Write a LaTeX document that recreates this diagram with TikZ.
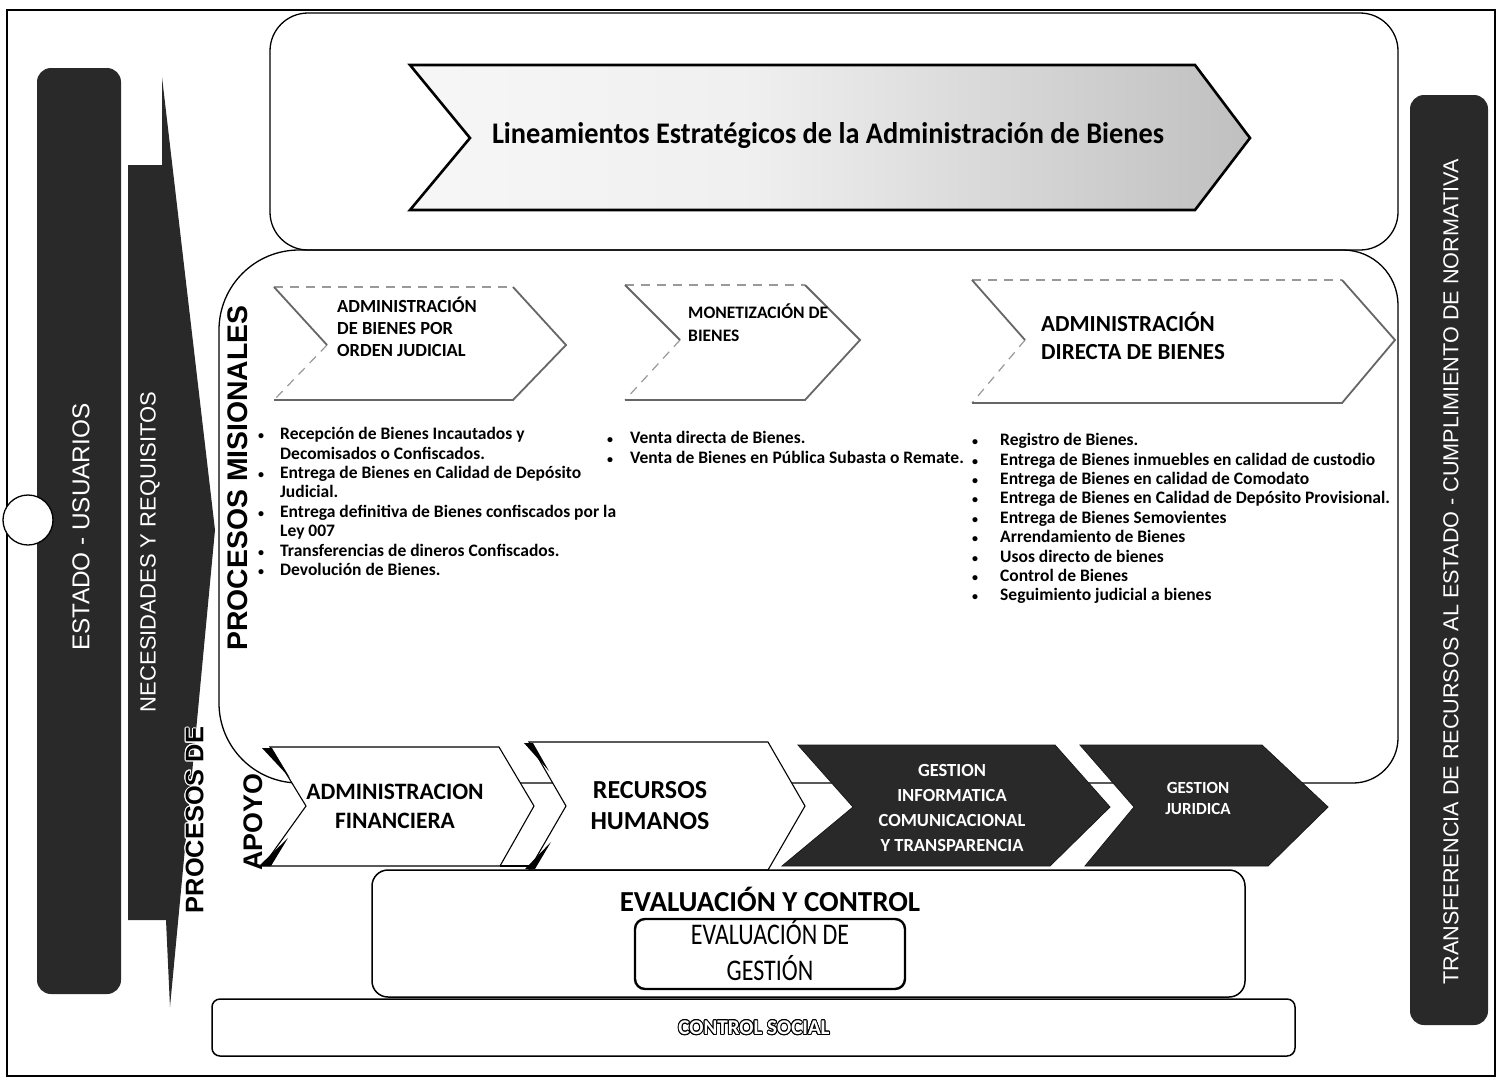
\documentclass[tikz,border=0pt]{standalone}
\usepackage{fontspec}
\usepackage{graphicx}
\setmainfont{Carlito}
\newfontfamily\arial{Liberation Sans}
\usepackage{contour}
\contourlength{0.9pt}
\usetikzlibrary{calc}
\pgfdeclarehorizontalshading{stratshade}{100bp}{color(0bp)=(white); color(45bp)=(black!6); color(80bp)=(black!28); color(100bp)=(black!60)}
\newcommand{\bul}{{\fontsize{12}{12}\selectfont •}}
\tikzset{
  frameline/.style={draw=black, line width=1.4pt},
  boxline/.style={draw=black, line width=1.3pt},
  darkfill/.style={fill=black!84, draw=black!90, line width=0.8pt},
  mislines/.style={draw=black!60, line width=1.8pt},
  misdash/.style={draw=black!40, line width=1.2pt, dash pattern=on 9pt off 7pt},
  supwhite/.style={fill=white, draw=black, line width=1.1pt},
  vlabel/.style={rotate=90, inner sep=0pt},
  lst/.style={inner sep=0pt, anchor=north west, font=\bfseries\fontsize{17.5}{19.4}\selectfont},
  mtitle/.style={inner sep=0pt, anchor=west, align=left},
  stitle/.style={inner sep=0pt, align=center},
}
\begin{document}
\begin{tikzpicture}[x=1pt,y=-1pt]
\useasboundingbox (0,0) rectangle (1502,1080);
\fill[white] (0,0) rectangle (1502,1080);

% outer frame
\draw[frameline] (7,10) rectangle (1495,1076);

% top box (strategic)
\draw[boxline, rounded corners=38] (270,13) rectangle (1398,250);
% missional box
\draw[boxline] (219,500) [rounded corners=80] -- (219,250) [rounded corners=55] -- (1398,250)
  [rounded corners=45] -- (1398,783) [rounded corners=80] -- (219,783) -- cycle;

% strategic chevron
\path[shading=stratshade] (410,65) -- (1195,65) -- (1250,138) -- (1195,210) -- (410,210) -- (470,138) -- cycle;
\draw[line width=2.6pt, line join=miter] (410,65) -- (1195,65) -- (1250,138) -- (1195,210) -- (410,210) -- (470,138) -- cycle;
\node[inner sep=0pt] (strat) at (828,136) {\resizebox{672pt}{21pt}{\bfseries\fontsize{26}{30}\selectfont Lineamientos Estratégicos de la Administración de Bienes}};

% left dark bar
\fill[black!84, rounded corners=14] (37,68) rectangle (121,994);
\node[vlabel, text=white] (estado) at (81,527) {\resizebox{247pt}{!}{\arial\fontsize{20}{24}\selectfont ESTADO - USUARIOS}};
% circle
\draw[fill=white, line width=1.3pt] (28,520) circle[radius=25];
\coordinate (circ) at (28,520);

% necesidades arrow
\fill[black!84] (128,165) -- (162,165) -- (162,77) -- (215,530) -- (170,1007) -- (166,920) -- (128,920) -- cycle;
\node[vlabel, text=white] (neces) at (150,552) {\resizebox{320pt}{!}{\arial\fontsize{20}{24}\selectfont NECESIDADES Y REQUISITOS}};

% vertical labels
\node[vlabel] (pmis) at (238,478) {\resizebox{345pt}{!}{\arial\bfseries\fontsize{24}{28}\selectfont PROCESOS MISIONALES}};
\node[vlabel] (pde) at (195,820) {\resizebox{186pt}{!}{\contour{white}{\arial\bfseries\fontsize{24}{28}\selectfont PROCESOS DE}}};
\node[vlabel] (apoyo) at (253,822) {\resizebox{97pt}{!}{\arial\bfseries\fontsize{24}{28}\selectfont APOYO}};

% right dark bar
\fill[black!84, rounded corners=14] (1410,95) rectangle (1488,1025);
\node[vlabel, text=white] (transf) at (1451,572) {\resizebox{825pt}{!}{\arial\fontsize{20}{24}\selectfont TRANSFERENCIA DE RECURSOS AL ESTADO - CUMPLIMIENTO DE NORMATIVA}};

% missional chevrons
\draw[misdash] (274,287) -- (513,287);
\draw[misdash] (327,345) -- (274,400);
\draw[mislines] (274,287) -- (327,345);
\draw[mislines] (274,400) -- (513,400) -- (566,345) -- (513,287);
\node[mtitle, font=\bfseries\fontsize{18.5}{22}\selectfont] (mt1) at (337,327) {ADMINISTRACIÓN\\DE BIENES POR\\ORDEN JUDICIAL};

\draw[misdash] (625,285) -- (805,285);
\draw[misdash] (680,340) -- (625,400);
\draw[mislines] (625,285) -- (680,340);
\draw[mislines] (625,400) -- (805,400) -- (860,340) -- (805,285);
\node[mtitle, font=\bfseries\fontsize{17.5}{23}\selectfont] (mt2) at (688,323) {MONETIZACIÓN DE\\BIENES};

\draw[misdash] (972,280) -- (1342,280);
\draw[misdash] (1025,340) -- (972,403);
\draw[mislines] (972,280) -- (1025,340);
\draw[mislines] (972,403) -- (1342,403) -- (1395,340) -- (1342,280);
\node[mtitle, font=\bfseries\fontsize{23}{28}\selectfont] (mt3) at (1041,336) {ADMINISTRACIÓN\\DIRECTA DE BIENES};

% bullet lists
\node[lst] (l1) at (258,426) {\begin{tabular}{@{}p{22pt}@{}l@{}}
\bul & Recepción de Bienes Incautados y\\
  & Decomisados o Confiscados.\\
\bul & Entrega de Bienes en Calidad de Depósito\\
  & Judicial.\\
\bul & Entrega definitiva de Bienes confiscados por la\\
  & Ley 007\\
\bul & Transferencias de dineros Confiscados.\\
\bul & Devolución de Bienes.
\end{tabular}};
\node[lst] (l2) at (607,430) {\begin{tabular}{@{}p{23pt}@{}l@{}}
\bul & Venta directa de Bienes.\\
\bul & Venta de Bienes en Pública Subasta o Remate.
\end{tabular}};
\node[lst] (l3) at (972,432) {\begin{tabular}{@{}p{28pt}@{}l@{}}
\bul & Registro de Bienes.\\
\bul & Entrega de Bienes inmuebles en calidad de custodio\\
\bul & Entrega de Bienes en calidad de Comodato\\
\bul & Entrega de Bienes en Calidad de Depósito Provisional.\\
\bul & Entrega de Bienes Semovientes\\
\bul & Arrendamiento de Bienes\\
\bul & Usos directo de bienes\\
\bul & Control de Bienes\\
\bul & Seguimiento judicial a bienes
\end{tabular}};

% support chevrons
\draw[supwhite] (270,747) -- (499,747) -- (534,806) -- (500,866) -- (263,866) -- (306,806) -- cycle;
\fill[black] (262,748) -- (272,748) -- (290,778) -- cycle;
\fill[black] (259,866) -- (271,866) -- (288,838) -- cycle;
\node[stitle, font=\bfseries\fontsize{23.5}{29}\selectfont] (st1) at (395,806) {ADMINISTRACION\\FINANCIERA};

\draw[supwhite] (529,742) -- (768,742) -- (805,806) -- (768,870) -- (529,870) -- (566,806) -- cycle;
\fill[black] (524,743) -- (533,743) -- (549,771) -- cycle;
\fill[black] (525,869) -- (535,869) -- (551,842) -- cycle;
\draw[line width=1.1pt] (500,866) -- (529,866);
\node[stitle, font=\bfseries\fontsize{26}{31}\selectfont] (st2) at (650,806) {RECURSOS\\HUMANOS};

\draw[darkfill] (798,745) -- (1055,745) -- (1110,807) -- (1050,866) -- (782,866) -- (853,807) -- cycle;
\node[stitle, text=white, font=\bfseries\fontsize{18.5}{25}\selectfont] (st3) at (952,808) {GESTION\\INFORMATICA\\COMUNICACIONAL\\Y TRANSPARENCIA};

\draw[darkfill] (1080,745) -- (1262,745) -- (1328,807) -- (1268,866) -- (1085,866) -- (1134,807) -- cycle;
\node[stitle, text=white, font=\bfseries\fontsize{17}{21}\selectfont] (st4) at (1198,798) {GESTION\\JURIDICA};

% evaluation and control
\draw[boxline, line width=1.5pt, rounded corners=16] (372,870) rectangle (1245,997);
\node[inner sep=0pt, font=\bfseries\fontsize{29}{33}\selectfont] (evc) at (770,899) {EVALUACIÓN Y CONTROL};
\draw[line width=2.4pt, rounded corners=10] (635,919) rectangle (905,989);
\node[stitle] (evg) at (770,955) {\scalebox{0.8}[1]{\fontsize{30}{34}\selectfont\begin{tabular}{@{}c@{}}EVALUACIÓN DE\\GESTIÓN\end{tabular}}};

% control social
\draw[boxline, line width=1.5pt, rounded corners=8] (212,999) rectangle (1295,1056);
\node[inner sep=0pt, font=\bfseries\fontsize{21}{25}\selectfont] (cs) at (754,1028) {\contour{black}{\textcolor{white}{CONTROL SOCIAL}}};
\end{tikzpicture}
\end{document}
